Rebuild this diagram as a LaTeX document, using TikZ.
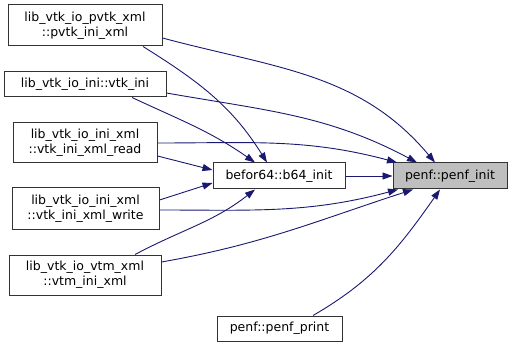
\documentclass[tikz,border=0pt]{standalone}
\usepackage{fontspec}
\setmainfont{DejaVu Sans}
\usetikzlibrary{arrows.meta}
\definecolor{edgeblue}{HTML}{191970}
\definecolor{boxgray}{HTML}{BFBFBF}

\begin{document}
\begin{tikzpicture}[x=1pt, y=-1pt,
  fn/.style={draw=black!80, line width=1pt, fill=white, inner sep=0pt, align=center, font=\fontsize{12.5}{15}\selectfont},
  call/.style={draw=edgeblue, line width=0.9pt, -{Triangle[length=10pt, width=7pt]}}]
\useasboundingbox (0,0) rectangle (513,347);

\node[fn, minimum width=154pt, minimum height=41pt] (a) at (85,25.5) {lib\_vtk\_io\_pvtk\_xml\\::pvtk\_ini\_xml};

\node[fn, minimum width=162pt, minimum height=25pt] (b) at (85,84.5) {lib\_vtk\_io\_ini::vtk\_ini};

\node[fn, minimum width=144pt, minimum height=40pt] (c) at (85,143) {lib\_vtk\_io\_ini\_xml\\::vtk\_ini\_xml\_read};

\node[fn, minimum width=147pt, minimum height=41pt] (d) at (85.5,208.5) {lib\_vtk\_io\_ini\_xml\\::vtk\_ini\_xml\_write};

\node[fn, minimum width=152pt, minimum height=40pt] (e) at (85,275) {lib\_vtk\_io\_vtm\_xml\\::vtm\_ini\_xml};

\node[fn, minimum width=132pt, minimum height=26pt] (f) at (279,176) {befor64::b64\_init};

\node[fn, fill=boxgray, minimum width=114pt, minimum height=26pt] (g) at (450,176) {penf::penf\_init};

\node[fn, minimum width=125pt, minimum height=25pt] (h) at (279.5,328.5) {penf::penf\_print};


\draw[call] ([yshift=-12.5pt]a.east) to[out=-15, in=130] ([xshift=-15pt]g.north);
\draw[call] ([xshift=58pt]a.south) to[out=-32, in=122] ([xshift=-12pt]f.north);

\draw[call] ([yshift=-8.5pt]b.east) to[out=-10, in=152] ([xshift=-33pt]g.north);
\draw[call] ([xshift=47pt]b.south) to[out=-25, in=145] ([xshift=-24pt]f.north);

\draw[call] (c.east) to[out=0, in=165] ([xshift=-53pt]g.north);
\draw[call] ([yshift=-13pt]c.east) -- ([yshift=6pt]f.west);

\draw[call] (f) -- (g);

\draw[call] ([yshift=8.5pt]d.east) -- ([yshift=-7pt]f.west);
\draw[call] ([yshift=-1.5pt]d.east) to[out=0, in=195] ([xshift=-52pt]g.south);

\draw[call] ([xshift=50pt]e.north) to[out=28, in=-142] ([xshift=-24pt]f.south);
\draw[call] ([yshift=13pt]e.east) to[out=10, in=-162] ([xshift=-37pt]g.south);

\draw[call] ([xshift=33.5pt]h.north) to[out=30, in=-125] ([xshift=-10pt]g.south);
\end{tikzpicture}
\end{document}
